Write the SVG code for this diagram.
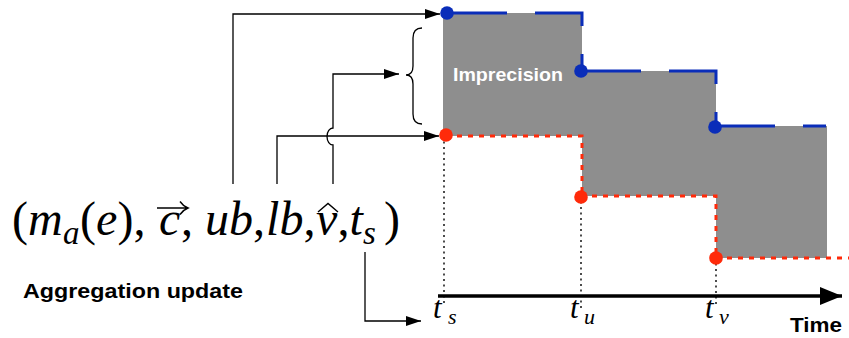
<svg xmlns="http://www.w3.org/2000/svg" width="849" height="338" viewBox="0 0 849 338">
<defs>
<style>
.conn{fill:none;stroke:#000;stroke-width:1.3}
.acc{fill:none;stroke:#000;stroke-width:1.4}
.blue{fill:none;stroke:#0a2db9;stroke-width:3;stroke-dasharray:60 28}
.red{fill:none;stroke:#ff2a0a;stroke-width:3;stroke-dasharray:5 6}
.dot{fill:none;stroke:#000;stroke-width:1.4;stroke-dasharray:2 3.5}
.bd{fill:#0a2db9}
.rd{fill:#ff2a0a}
.m{font-family:"Liberation Serif",serif;font-size:48px;fill:#000}
.i{font-style:italic}
.sub{font-size:33px}
.lab{font-family:"Liberation Serif",serif;font-style:italic;fill:#000}
.bold{font-family:"Liberation Sans",Arial,sans-serif;font-weight:bold}
</style>
<marker id="ah" markerUnits="userSpaceOnUse" markerWidth="16" markerHeight="11" refX="15" refY="5" orient="auto">
<path d="M0,0 L15,5 L0,10 z" fill="#000"/>
</marker>
<marker id="axh" markerUnits="userSpaceOnUse" markerWidth="24" markerHeight="20" refX="22" refY="9" orient="auto">
<path d="M0,0 L22,9 L0,18 z" fill="#000"/>
</marker>
</defs>
<rect width="849" height="338" fill="#fff"/>

<g id="imprecision-area">
<polygon points="443,13 582,13 582,71 716,71 716,126 827,126 827,258 716,258 716,196 582,196 582,136 443,136" fill="#8e8e8e"/>
<text class="bold" x="453" y="81" font-size="19" fill="#fff" textLength="110" lengthAdjust="spacingAndGlyphs">Imprecision</text>
</g>

<g id="guides">
<line class="dot" x1="444" y1="136" x2="444" y2="305"/>
<line class="dot" x1="581" y1="196" x2="581" y2="308"/>
<line class="dot" x1="716" y1="258" x2="716" y2="304"/>
</g>

<g id="upper-bound">
<path class="blue" d="M447,13 H582 V71"/>
<path class="blue" d="M581,71 H716 V127"/>
<path class="blue" d="M715,126 H826"/>
<circle class="bd" cx="447" cy="13" r="6.8"/>
<circle class="bd" cx="581" cy="71" r="6.8"/>
<circle class="bd" cx="715" cy="127" r="6.8"/>
</g>

<g id="lower-bound">
<path class="red" d="M446,136 H582 V196"/>
<path class="red" d="M581,196 H716 V258"/>
<path class="red" d="M716,258 H849"/>
<circle class="rd" cx="446" cy="135" r="6.8"/>
<circle class="rd" cx="581" cy="197" r="6.8"/>
<circle class="rd" cx="716" cy="258" r="6.8"/>
</g>

<g id="brace">
<path class="conn" d="M422,28 Q413,28 413,38 L413,66 Q413,75 406,75 Q413,75 413,84 L413,114 Q413,124 422,124"/>
</g>

<g id="time-axis">
<line x1="438" y1="296" x2="842" y2="296" stroke="#000" stroke-width="3.5" marker-end="url(#axh)"/>
<text class="bold" x="790" y="332" font-size="21" textLength="52" lengthAdjust="spacingAndGlyphs">Time</text>
<text class="lab" x="433" y="318" font-size="31">t<tspan x="448" y="324" font-size="22">s</tspan></text>
<text class="lab" x="570" y="318" font-size="31">t<tspan x="584" y="324" font-size="22">u</tspan></text>
<text class="lab" x="705" y="318" font-size="31">t<tspan x="719" y="324" font-size="22">v</tspan></text>
</g>

<g id="aggregation-update">
<text class="m" y="235"><tspan x="12">(</tspan><tspan class="i" x="28">m</tspan><tspan class="i sub" x="63" y="244">a</tspan><tspan x="80" y="235">(</tspan><tspan class="i" x="96">e</tspan><tspan x="117.5">)</tspan><tspan x="133.5">,</tspan><tspan class="i" x="159">c</tspan><tspan x="181">,</tspan><tspan class="i" x="205">u</tspan><tspan class="i" x="229">b</tspan><tspan x="253">,</tspan><tspan class="i" x="266">l</tspan><tspan class="i" x="279.5">b</tspan><tspan x="303.5">,</tspan><tspan class="i" x="316">v</tspan><tspan x="337.5">,</tspan><tspan class="i" x="349.5">t</tspan><tspan class="i sub" x="363" y="244">s</tspan><tspan x="384" y="235">)</tspan></text>
<path class="acc" d="M157,208 H187 M180,201.5 Q183,206 188,208 Q183,210 180,214.5"/>
<path class="acc" d="M318,212 L328,203.5 L338,212"/>
<text class="bold" x="23" y="298" font-size="21" textLength="220" lengthAdjust="spacingAndGlyphs">Aggregation update</text>
</g>

<g id="connectors">
<path class="conn" d="M233,184 V14 H440" marker-end="url(#ah)"/>
<path class="conn" d="M277,184 V136 H439" marker-end="url(#ah)"/>
<path class="conn" d="M333,184 V145 A6 8.5 0 0 1 333,128 V74 H399" marker-end="url(#ah)"/>
<path class="conn" d="M365,252 V321 H421" marker-end="url(#ah)"/>
</g>
</svg>
